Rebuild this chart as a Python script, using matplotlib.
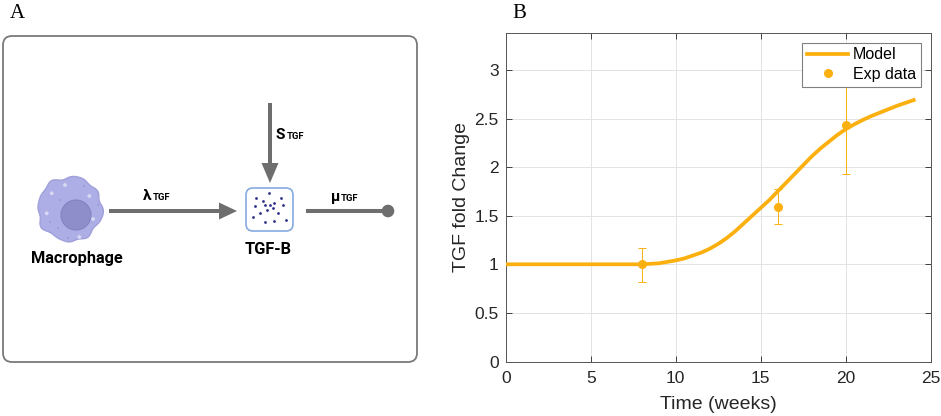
import numpy as np
import matplotlib
matplotlib.use("Agg")
from matplotlib import pyplot as plt
from matplotlib.patches import FancyBboxPatch, Circle, Polygon

# model curve
t_model = [0, 2, 4, 6, 8, 9, 10, 10.5, 11, 11.5, 12, 12.5, 13, 13.5, 14, 14.5, 15, 15.5, 16,
           16.5, 17, 17.5, 18, 18.5, 19, 19.5, 20, 20.5, 21, 21.5, 22, 22.5, 23, 23.5, 24]
tgf_model = [1.00, 1.00, 1.00, 1.00, 1.00, 1.01, 1.04, 1.06, 1.09, 1.12, 1.16, 1.21, 1.27, 1.34,
             1.42, 1.50, 1.58, 1.66, 1.75, 1.84, 1.93, 2.02, 2.11, 2.19, 2.26, 2.33, 2.39, 2.44,
             2.485, 2.525, 2.56, 2.595, 2.63, 2.66, 2.69]

# experimental data
t_exp = [8, 16, 20]
tgf_exp = [1.00, 1.59, 2.43]
err_low = [0.18, 0.18, 0.50]
err_high = [0.17, 0.18, 0.48]

x_ticks = [0, 5, 10, 15, 20, 25]
y_ticks = [0, 0.5, 1, 1.5, 2, 2.5, 3]
y_ticklabels = ["0", "0.5", "1", "1.5", "2", "2.5", "3"]

# TGF-B particles, relative positions inside the box
tgf_dots = [(0.48, 0.06), (0.17, 0.19), (0.34, 0.26), (0.78, 0.20), (0.62, 0.32), (0.14, 0.41),
            (0.38, 0.39), (0.52, 0.39), (0.83, 0.39), (0.59, 0.47), (0.45, 0.50), (0.28, 0.59),
            (0.71, 0.59), (0.10, 0.69), (0.38, 0.84), (0.60, 0.82), (0.90, 0.78)]

orange = "#FBB010"
arrow_gray = "#6E6E6E"

fig = plt.figure(figsize=(9.41, 4.16), dpi=100)

# ---- panel A: schematic drawn in pixel coordinates
axA = fig.add_axes([0, 0, 1, 1])
axA.set_xlim(0, 941)
axA.set_ylim(416, 0)
axA.axis("off")

axA.text(10, 4, "A", family="Liberation Serif", fontsize=15, va="top", ha="left")
axA.text(512, 4, "B", family="Liberation Serif", fontsize=15, va="top", ha="left")

axA.add_patch(FancyBboxPatch((3, 36), 414, 326, boxstyle="round,pad=0,rounding_size=9",
                             fc="white", ec="#7A7A7A", lw=1.3))

# macrophage
th = np.linspace(0, 2 * np.pi, 400)
r = 32 + 1.1 * np.sin(8 * th) + 0.7 * np.sin(5 * th + 1.0) + 0.5 * np.sin(12 * th + 2.0)
cell = np.column_stack([70 + r * np.cos(th), 209 + r * np.sin(th)])
axA.add_patch(Polygon(cell, closed=True, fc="#AEAEE6", ec="#A0A0DA", lw=1))
axA.add_patch(Circle((76, 215), 15, fc="#8E8ECB", ec="#8383C2", lw=0.8))
for sx, sy in [(51.7, 193.3), (89.3, 196), (46.7, 213.3), (79.3, 237), (93, 219), (65, 185)]:
    axA.add_patch(Circle((sx, sy), 1.9, fc="#D8D8F4", ec="none"))
for sx, sy in [(60, 200), (58, 228), (84, 186), (98, 205), (68, 238), (50, 222)]:
    axA.add_patch(Circle((sx, sy), 0.8, fc="#9090D0", ec="none"))
axA.text(77, 258, "Macrophage", family="Roboto", weight="bold", fontsize=11.8,
         ha="center", va="center")

# arrows
axA.arrow(109, 211, 128, 0, width=4, head_width=17, head_length=18,
          length_includes_head=True, color=arrow_gray, lw=0)
axA.arrow(270, 103, 0, 80, width=4, head_width=17, head_length=20,
          length_includes_head=True, color=arrow_gray, lw=0)
axA.plot([306, 386], [211, 211], color=arrow_gray, lw=2.9, solid_capstyle="butt")
axA.add_patch(Circle((388, 211), 6.3, fc=arrow_gray, ec="none"))

# rate labels
lbl = dict(family="Roboto", weight="bold", ha="left", va="baseline")
axA.text(143, 200, "λ", fontsize=11, **lbl)
axA.text(153, 200, "TGF", fontsize=6.8, **lbl)
axA.text(276, 139, "S", fontsize=11, **lbl)
axA.text(287, 139, "TGF", fontsize=6.8, **lbl)
axA.text(331, 201, "μ", fontsize=11, **lbl)
axA.text(341, 201, "TGF", fontsize=6.8, **lbl)

# TGF-B box
bx, by, bw, bh = 246, 188, 47, 43
axA.add_patch(FancyBboxPatch((bx, by), bw, bh, boxstyle="round,pad=0,rounding_size=7",
                             fc="white", ec="#86A9E0", lw=1.2))
dx = [bx + 3 + p[0] * (bw - 6) for p in tgf_dots]
dy = [by + 3 + p[1] * (bh - 6) for p in tgf_dots]
axA.scatter(dx, dy, s=4, color="#2E2E8A", lw=0, zorder=3)
axA.text(268.5, 249, "TGF-B", family="Roboto", weight="bold", fontsize=11.8,
         ha="center", va="center")

# ---- panel B: TGF fold change
ax = fig.add_axes([505.7 / 941, (416 - 361.5) / 416, 425 / 941, (361.5 - 33) / 416])
ax.plot(t_model, tgf_model, color=orange, lw=2.7, label="Model", zorder=3,
        solid_joinstyle="round")
ax.errorbar(t_exp, tgf_exp, yerr=[err_low, err_high], fmt="none", ecolor=orange,
            elinewidth=0.7, capsize=2.8, capthick=0.7, zorder=2)
ax.plot(t_exp, tgf_exp, "o", color=orange, ms=5.5, label="Exp data", zorder=4)

ax.set_xlim(0, 25)
ax.set_ylim(0, 3.38)
ax.set_xticks(x_ticks)
ax.set_yticks(y_ticks)
ax.set_yticklabels(y_ticklabels)
ax.grid(True, color="#E3E3E3", lw=0.7)
ax.set_axisbelow(True)
ax.tick_params(direction="in", top=True, right=True, length=4, width=0.6,
               labelsize=12.5, colors="#262626")
ax.tick_params(axis="x", pad=7)
ax.tick_params(axis="y", pad=5)
for s in ax.spines.values():
    s.set_color("#555555")
    s.set_linewidth(0.7)
lab_font = dict(family="Liberation Sans", fontsize=14, color="#262626")
ax.set_xlabel("Time (weeks)", labelpad=7, **lab_font)
ax.set_ylabel("TGF fold Change", labelpad=3, **lab_font)
for t in ax.get_xticklabels() + ax.get_yticklabels():
    t.set_family("Liberation Sans")

leg = ax.legend(loc="upper right", fancybox=False, framealpha=1, edgecolor="#808080",
                prop={"family": "Liberation Sans", "size": 11.5}, handlelength=2.6,
                handletextpad=0.3, borderaxespad=0.6, borderpad=0.3, labelspacing=0.28)
leg.get_frame().set_linewidth(0.8)

fig.savefig("out.png", dpi=100)
